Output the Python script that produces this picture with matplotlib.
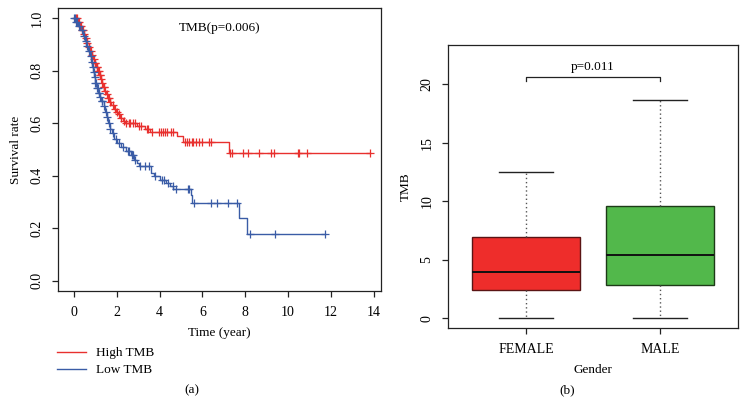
import numpy as np
import matplotlib
matplotlib.use("Agg")
import matplotlib.pyplot as plt

plt.rcParams['font.family'] = ['Liberation Serif', 'DejaVu Serif']
plt.rcParams['font.size'] = 9.5

# ---- panel (a): Kaplan-Meier curves ----
high_t = [0.15, 0.25, 0.35, 0.45, 0.52, 0.60, 0.68, 0.75, 0.82, 0.88, 0.95, 1.02, 1.10, 1.17,
          1.24, 1.30, 1.36, 1.42, 1.50, 1.58, 1.66, 1.75, 1.85, 1.95, 2.05, 2.15, 2.28, 2.40,
          2.95, 3.30, 3.55, 4.80, 5.10, 7.26]
high_s = [0.985, 0.97, 0.955, 0.94, 0.925, 0.905, 0.89, 0.875, 0.86, 0.845, 0.83, 0.815, 0.80, 0.785,
          0.77, 0.755, 0.74, 0.725, 0.71, 0.695, 0.68, 0.668, 0.656, 0.645, 0.634, 0.622, 0.61, 0.60,
          0.59, 0.578, 0.566, 0.551, 0.528, 0.487]
high_cens = [0.08, 0.12, 0.18, 0.22, 0.28, 0.32, 0.38, 0.42, 0.48, 0.55, 0.62, 0.70, 0.78, 0.85,
             0.92, 0.97, 1.00, 1.05, 1.08, 1.13, 1.15, 1.20, 1.22, 1.27, 1.33, 1.38, 1.40, 1.46,
             1.53, 1.60, 1.63, 1.70, 1.80, 1.90, 2.00, 2.10, 2.20, 2.33, 2.45, 2.55, 2.62, 2.75,
             2.85, 3.05, 3.15, 3.40, 3.45, 3.63, 3.99, 4.05, 4.15, 4.25, 4.36, 4.52, 4.64,
             5.19, 5.27, 5.37, 5.50, 5.55, 5.70, 5.86, 5.97, 6.32, 6.41,
             7.29, 7.38, 7.88, 8.13, 8.63, 9.22, 9.35, 10.47, 10.53, 10.90, 13.83]

low_t = [0.10, 0.20, 0.30, 0.40, 0.50, 0.58, 0.66, 0.73, 0.80, 0.85, 0.90, 0.95, 1.00, 1.06,
         1.12, 1.20, 1.28, 1.38, 1.45, 1.52, 1.58, 1.66, 1.76, 1.88, 2.00, 2.20, 2.45, 2.65,
         2.80, 2.92, 3.05, 3.60, 3.75, 4.00, 4.30, 4.50, 4.62, 5.45, 5.53, 7.72, 8.10]
low_s = [0.985, 0.97, 0.955, 0.935, 0.915, 0.895, 0.875, 0.855, 0.835, 0.815, 0.795, 0.775, 0.755, 0.735,
         0.715, 0.70, 0.685, 0.665, 0.645, 0.625, 0.60, 0.58, 0.562, 0.54, 0.525, 0.51, 0.495, 0.478,
         0.46, 0.448, 0.436, 0.41, 0.398, 0.385, 0.372, 0.36, 0.35, 0.328, 0.297, 0.239, 0.179]
low_cens = [0.00, 0.05, 0.10, 0.15, 0.25, 0.35, 0.45, 0.55, 0.62, 0.70, 0.78, 0.83, 0.88, 0.92,
            0.97, 1.00, 1.03, 1.08, 1.10, 1.15, 1.18, 1.23, 1.30, 1.33, 1.40, 1.48, 1.55, 1.62,
            1.70, 1.80, 1.95, 2.10, 2.30, 2.50, 2.55, 2.70, 2.75, 2.85, 3.10, 3.30, 3.50, 3.80,
            4.10, 4.20, 4.41, 4.61, 4.77, 5.34, 5.39, 5.62, 6.40, 6.67, 7.21, 7.63, 8.22, 9.41, 11.73]

# ---- panel (b): boxplot stats ----
groups = ['FEMALE', 'MALE']
whis_lo = [0.0, 0.0]
q1 = [2.36, 2.82]
med = [3.93, 5.38]
q3 = [6.97, 9.57]
whis_hi = [12.53, 18.68]
box_colors = ['#ee2d2b', '#52b84b']

red = '#e8302e'
blue = '#3a5ca6'


def km_line(ax, times, surv, cens, color, label):
    t_end = max(max(cens), max(times))
    xs = np.concatenate([[0], times, [t_end]])
    ys = np.concatenate([[1.0], surv, [surv[-1]]])
    ax.step(xs, ys, where='post', color=color, lw=1.0, label=label)
    cens = np.asarray(cens)
    idx = np.searchsorted(times, cens, side='right')
    sv = np.concatenate([[1.0], surv])[idx]
    ax.plot(cens, sv, '+', color=color, ms=6, mew=0.9)


fig = plt.figure(figsize=(7.47, 4.16), dpi=100)
W, H = 747, 416
ax1 = fig.add_axes([58 / W, 1 - 291 / H, (381 - 58) / W, (291 - 8) / H])
km_line(ax1, high_t, high_s, high_cens, red, 'High TMB')
km_line(ax1, low_t, low_s, low_cens, blue, 'Low TMB')
ax1.set_xlim(-0.75, 14.35)
ax1.set_ylim(-0.04, 1.04)
ax1.set_xticks(range(0, 15, 2))
ax1.set_yticks([0, 0.2, 0.4, 0.6, 0.8, 1.0])
ax1.set_yticklabels(['0.0', '0.2', '0.4', '0.6', '0.8', '1.0'], rotation=90, va='center')
ax1.set_xlabel('Time (year)', labelpad=6)
ax1.set_ylabel('Survival rate', labelpad=6)
ax1.text(0.50, 0.929, 'TMB(p=0.006)', transform=ax1.transAxes, ha='center', va='center')
ax1.legend(loc='upper left', bbox_to_anchor=(-0.02, -0.18), frameon=False,
           handlelength=2.2, handletextpad=0.8, labelspacing=0.35, borderaxespad=0)
ax1.text(0.415, -0.35, '(a)', transform=ax1.transAxes, ha='center', va='center')

ax2 = fig.add_axes([448 / W, 1 - 328 / H, (738 - 448) / W, (328 - 45) / H])
stats = []
for i in range(len(groups)):
    stats.append(dict(label=groups[i], whislo=whis_lo[i], q1=q1[i], med=med[i],
                      q3=q3[i], whishi=whis_hi[i], fliers=[]))
bp = ax2.bxp(stats, positions=[1, 2], widths=0.8, patch_artist=True, showfliers=False,
             whiskerprops=dict(color='#555555', ls=(0, (1, 2)), lw=1.0),
             capprops=dict(color='#222222', lw=1.0), capwidths=0.4,
             medianprops=dict(color='#111111', lw=1.4),
             boxprops=dict(lw=1.0))
for patch, c, ec in zip(bp['boxes'], box_colors, ['#5a1414', '#1d3a17']):
    patch.set_facecolor(c)
    patch.set_edgecolor(ec)
ax2.set_xlim(0.42, 2.58)
ax2.set_ylim(-0.85, 23.36)
ax2.set_yticks([0, 5, 10, 15, 20])
ax2.set_yticklabels(['0', '5', '10', '15', '20'], rotation=90, va='center')
ax2.set_xlabel('Gender', labelpad=6)
ax2.set_ylabel('TMB', labelpad=6)
ax2.plot([1, 1, 2, 2], [20.28, 20.6, 20.6, 20.28], color='#222222', lw=0.9)
ax2.text(1.5, 21.45, 'p=0.011', ha='center', va='center')
ax2.text(0.41, -0.22, '(b)', transform=ax2.transAxes, ha='center', va='center')

for ax in (ax1, ax2):
    for sp in ax.spines.values():
        sp.set_linewidth(0.9)
        sp.set_color('#222222')
    ax.tick_params(length=4.5, width=0.9, color='#222222', labelsize=10, pad=6)

fig.savefig('out.png', dpi=100)
